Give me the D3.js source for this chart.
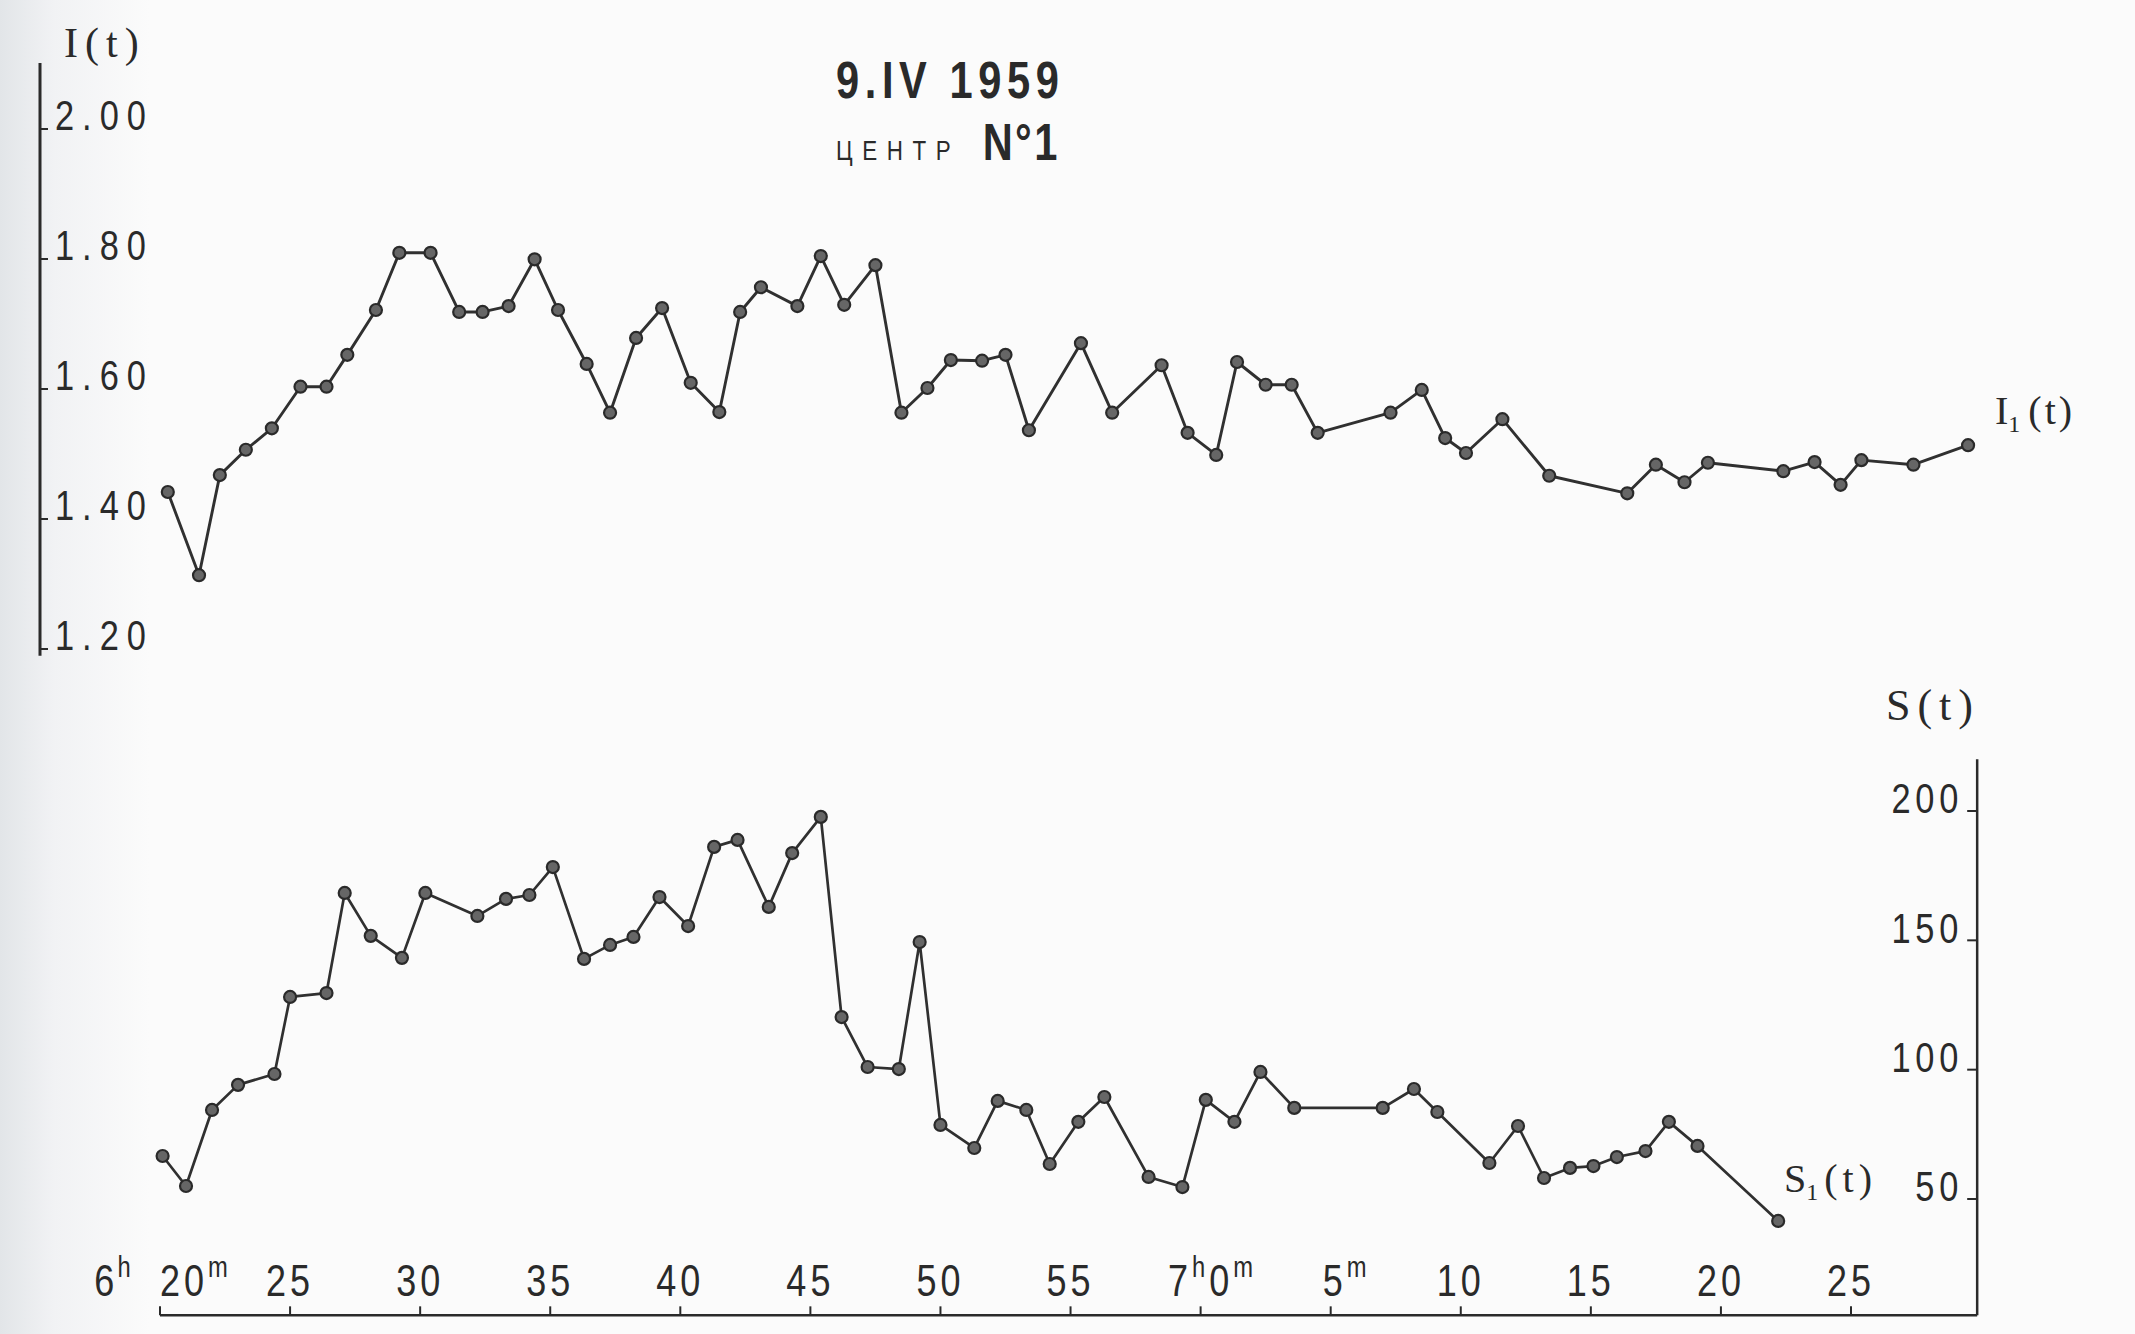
<!DOCTYPE html>
<html>
<head>
<meta charset="utf-8">
<script src="https://cdn.jsdelivr.net/npm/d3@7"></script>
<style>
  body { margin: 0; background: #fafafa; }
  svg { display: block; }
</style>
</head>
<body>
<svg id="chart" width="2135" height="1334"></svg>
<script>
// I(t) series: minutes after 6h00m and intensity values
const iTimes = [20.3, 21.5, 22.3, 23.3, 24.3, 25.4, 26.4, 27.2, 28.3, 29.2,
    30.4, 31.5, 32.4, 33.4, 34.4, 35.3, 36.4, 37.3, 38.3, 39.3,
    40.4, 41.5, 42.3, 43.1, 44.5, 45.4, 46.3, 47.5, 48.5, 49.5,
    50.4, 51.6, 52.5, 53.4, 55.4, 56.6, 58.5, 59.5, 60.6, 61.4,
    62.5, 63.5, 64.5, 67.3, 68.5, 69.4, 70.2, 71.6, 73.4, 76.4,
    77.5, 78.6, 79.5, 82.4, 83.6, 84.6, 85.4, 87.4, 89.5];
const iValues = [1.420, 1.292, 1.446, 1.485, 1.518, 1.582, 1.582, 1.631, 1.700, 1.788,
    1.788, 1.697, 1.697, 1.706, 1.778, 1.700, 1.617, 1.542, 1.657, 1.703,
    1.588, 1.543, 1.697, 1.735, 1.706, 1.783, 1.708, 1.769, 1.542, 1.580,
    1.623, 1.622, 1.631, 1.515, 1.649, 1.542, 1.615, 1.511, 1.477, 1.620,
    1.585, 1.585, 1.511, 1.542, 1.577, 1.503, 1.480, 1.532, 1.445, 1.418,
    1.462, 1.435, 1.465, 1.452, 1.466, 1.431, 1.469, 1.462, 1.492];

// S(t) series
const sTimes = [20.1, 21.0, 22.0, 23.0, 24.4, 25.0, 26.4, 27.1, 28.1, 29.3,
    30.2, 32.2, 33.3, 34.2, 35.1, 36.3, 37.3, 38.2, 39.2, 40.3,
    41.3, 42.2, 43.4, 44.3, 45.4, 46.2, 47.2, 48.4, 49.2, 50.0,
    51.3, 52.2, 53.3, 54.2, 55.3, 56.3, 58.0, 59.3, 60.2, 61.3,
    62.3, 63.6, 67.0, 68.2, 69.1, 71.1, 72.2, 73.2, 74.2, 75.1,
    76.0, 77.1, 78.0, 79.1, 82.2];
const sValues = [61.6, 50.0, 79.4, 89.1, 93.3, 123.1, 124.6, 163.3, 146.7, 138.2,
    163.3, 154.4, 161.0, 162.5, 173.3, 137.8, 143.2, 146.3, 161.7, 150.5,
    181.1, 183.8, 157.9, 178.7, 192.7, 115.3, 96.0, 95.2, 144.3, 73.6,
    64.7, 82.9, 79.4, 58.5, 74.8, 84.4, 53.5, 49.6, 83.3, 74.8,
    94.1, 80.2, 80.2, 87.5, 78.6, 58.9, 73.2, 53.1, 57.0, 57.7,
    61.2, 63.5, 74.8, 65.5, 36.5];

// axis ticks
const timeTicks = [20, 25, 30, 35, 40, 45, 50, 55, 60, 65, 70, 75, 80, 85];
const timeTickLabels = ["20^m", "25", "30", "35", "40", "45", "50", "55", "7^h0^m", "5^m", "10", "15", "20", "25"];
const iTicks = [1.2, 1.4, 1.6, 1.8, 2.0];
const iTickLabels = ["1.20", "1.40", "1.60", "1.80", "2.00"];
const sTicks = [50, 100, 150, 200];
const sTickLabels = ["50", "100", "150", "200"];

const svg = d3.select('#chart');
const W = +svg.attr('width'), H = +svg.attr('height');

const colors = {
    ink: "#2a2a2a",
    line: "#303030",
    dot: "#666666",
    paper: "#fbfbfb"
};
const numFont = '"Liberation Sans", Arimo, sans-serif';
const serifFont = '"Liberation Serif", "DejaVu Serif", serif';
const narrow = 0.8; // horizontal squeeze for the typewriter-like digits

// scanned paper background, greyer at the left edge
const defs = svg.append('defs');
const grad = defs.append('linearGradient').attr('id', 'paper').attr('x1', 0).attr('x2', 1).attr('y1', 0).attr('y2', 0);
grad.append('stop').attr('offset', 0).attr('stop-color', '#e2e5e8');
grad.append('stop').attr('offset', 0.025).attr('stop-color', '#f1f2f4');
grad.append('stop').attr('offset', 0.07).attr('stop-color', colors.paper);
grad.append('stop').attr('offset', 1).attr('stop-color', colors.paper);
svg.append('rect').attr('width', W).attr('height', H).attr('fill', 'url(#paper)');

// scales
const x = d3.scaleLinear().domain([20, 85]).range([160, 1851]);
const yI = d3.scaleLinear().domain([1.2, 2.0]).range([635, 115]);
const yS = d3.scaleLinear().domain([50, 200]).range([1186, 798]);

const axisEndT = 89.85;

// condensed text placed at (px, py)
function narrowText(parent, px, py, size) {
    return parent.append('text')
        .attr('transform', `translate(${px},${py}) scale(${narrow},1)`)
        .attr('font-family', numFont).attr('font-size', size)
        .attr('fill', colors.ink);
}

// helper: text with ^x superscripts
function supText(sel, label) {
    const parts = label.split(/(\^.)/).filter(p => p.length);
    parts.forEach((p, i) => {
        if (p[0] === '^') {
            sel.append('tspan').attr('font-size', '0.66em').attr('dy', '-0.65em').text(p[1]);
        } else {
            const prevSup = i > 0 && parts[i - 1][0] === '^';
            sel.append('tspan').attr('dy', prevSup ? '0.43em' : null).text(p);
        }
    });
}

// ---- left I(t) axis ----
const gI = svg.append('g');
gI.append('line')
    .attr('x1', 40).attr('x2', 40)
    .attr('y1', yI(2.08)).attr('y2', yI(1.168))
    .attr('stroke', colors.ink).attr('stroke-width', 3);
gI.selectAll('.itick').data(iTicks).enter().append('line')
    .attr('x1', 40).attr('x2', 48)
    .attr('y1', d => yI(d) + 14).attr('y2', d => yI(d) + 14)
    .attr('stroke', colors.ink).attr('stroke-width', 2);
iTicks.forEach((v, i) => {
    narrowText(gI, 55, yI(v), 43)
        .attr('dy', '0.36em').attr('letter-spacing', 10)
        .text(iTickLabels[i]);
});
svg.append('text')
    .attr('x', 64).attr('y', 57)
    .attr('font-family', serifFont).attr('font-size', 42)
    .attr('letter-spacing', 7)
    .attr('fill', colors.ink)
    .text('I(t)');

// ---- right S(t) axis ----
const axisX = x(axisEndT);
const gS = svg.append('g');
gS.append('line')
    .attr('x1', axisX).attr('x2', axisX)
    .attr('y1', yS(215)).attr('y2', yS(0))
    .attr('stroke', colors.ink).attr('stroke-width', 2.5);
gS.selectAll('.stick').data(sTicks).enter().append('line')
    .attr('x1', axisX - 10).attr('x2', axisX)
    .attr('y1', d => yS(d) + 13).attr('y2', d => yS(d) + 13)
    .attr('stroke', colors.ink).attr('stroke-width', 2);
sTicks.forEach((v, i) => {
    narrowText(gS, axisX - 14, yS(v), 43)
        .attr('dy', '0.36em').attr('text-anchor', 'end')
        .attr('letter-spacing', 6)
        .text(sTickLabels[i]);
});
svg.append('text')
    .attr('x', 1886).attr('y', 720)
    .attr('font-family', serifFont).attr('font-size', 44)
    .attr('letter-spacing', 7)
    .attr('fill', colors.ink)
    .text('S(t)');

// ---- bottom time axis ----
const axisY = yS(0);
const gX = svg.append('g');
gX.append('line')
    .attr('x1', x(20)).attr('x2', axisX)
    .attr('y1', axisY).attr('y2', axisY)
    .attr('stroke', colors.ink).attr('stroke-width', 2.5);
gX.selectAll('.xtick').data(timeTicks).enter().append('line')
    .attr('x1', d => x(d)).attr('x2', d => x(d))
    .attr('y1', axisY).attr('y2', axisY - 9)
    .attr('stroke', colors.ink).attr('stroke-width', 2);

// label placement tweaks for the labels carrying units
const labelShift = { 20: 36, 60: 12, 65: 16 };
timeTicks.forEach((t, i) => {
    const txt = narrowText(gX, x(t) + (labelShift[t] || 0), 1296, 45)
        .attr('text-anchor', 'middle')
        .attr('letter-spacing', 5);
    supText(txt, timeTickLabels[i]);
});
const hourLabel = narrowText(gX, x(20) - 26, 1296, 45)
    .attr('text-anchor', 'end')
    .attr('letter-spacing', 4);
supText(hourLabel, '6^h');

// ---- title ----
narrowText(svg, 836, 98, 52)
    .attr('font-weight', 'bold')
    .attr('letter-spacing', 7)
    .text('9.IV 1959');
const sub = narrowText(svg, 836, 160, 28);
sub.append('tspan').attr('letter-spacing', 12).text('ЦЕНТР');
sub.append('tspan').attr('dx', 28).attr('font-size', 52).attr('font-weight', 'bold')
    .attr('letter-spacing', 3).text('N°1');

// ---- series ----
const iData = iTimes.map((t, i) => ({ t, v: iValues[i] }));
const sData = sTimes.map((t, i) => ({ t, v: sValues[i] }));

const lineI = d3.line().x(d => x(d.t)).y(d => yI(d.v));
const lineS = d3.line().x(d => x(d.t)).y(d => yS(d.v));

svg.append('path').datum(iData)
    .attr('fill', 'none').attr('stroke', colors.line)
    .attr('stroke-width', 2.9).attr('stroke-linejoin', 'round')
    .attr('d', lineI);
svg.append('path').datum(sData)
    .attr('fill', 'none').attr('stroke', colors.line)
    .attr('stroke-width', 2.7).attr('stroke-linejoin', 'round')
    .attr('d', lineS);

svg.selectAll('.idot').data(iData).enter().append('circle')
    .attr('cx', d => x(d.t)).attr('cy', d => yI(d.v))
    .attr('r', 6)
    .attr('fill', colors.dot).attr('stroke', colors.ink).attr('stroke-width', 2.2);
svg.selectAll('.sdot').data(sData).enter().append('circle')
    .attr('cx', d => x(d.t)).attr('cy', d => yS(d.v))
    .attr('r', 6)
    .attr('fill', colors.dot).attr('stroke', colors.ink).attr('stroke-width', 2.2);

// series labels
const lblI = svg.append('text')
    .attr('x', 1995).attr('y', 424)
    .attr('font-family', serifFont).attr('font-size', 40)
    .attr('fill', colors.ink);
lblI.append('tspan').text('I');
lblI.append('tspan').attr('font-size', 24).attr('dy', 8).text('1');
lblI.append('tspan').attr('dy', -8).attr('dx', 8).attr('letter-spacing', 3).text('(t)');

const lblS = svg.append('text')
    .attr('x', 1784).attr('y', 1192)
    .attr('font-family', serifFont).attr('font-size', 40)
    .attr('fill', colors.ink);
lblS.append('tspan').text('S');
lblS.append('tspan').attr('font-size', 24).attr('dy', 8).text('1');
lblS.append('tspan').attr('dy', -8).attr('dx', 6).attr('letter-spacing', 5).text('(t)');
</script>
</body>
</html>
